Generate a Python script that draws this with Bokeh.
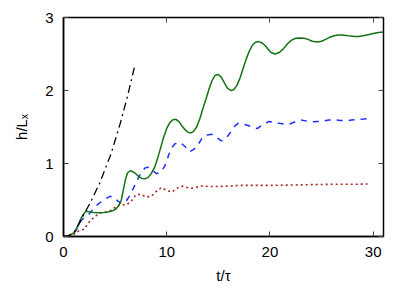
from bokeh.plotting import figure
from bokeh.models import LinearAxis, FixedTicker, Range1d
from bokeh.embed import file_html
from bokeh.resources import INLINE

# black dash-dot reference curve
t_black = [0, 0.5, 1.0, 1.5, 2.0, 2.66, 3.5, 4.6, 5.5, 6.2, 6.87]
h_black = [0, 0.01, 0.05, 0.17, 0.31, 0.48, 0.73, 1.13, 1.55, 1.92, 2.32]

# green solid
t_green = [0, 0.5, 1.0, 1.3, 1.6, 1.9, 2.2, 2.5, 2.9, 3.4, 3.9, 4.4, 4.8, 5.1, 5.35, 5.6, 5.8,
           6.0, 6.2, 6.45, 6.7, 7.0, 7.3, 7.6, 7.9, 8.2, 8.5, 8.8, 9.1, 9.4, 9.7, 10.0, 10.3,
           10.6, 10.9, 11.2, 11.5, 11.8, 12.1, 12.35, 12.6, 12.9, 13.2, 13.5, 13.8, 14.1, 14.4,
           14.7, 15.0, 15.3, 15.6, 15.9, 16.2, 16.5, 16.8, 17.1, 17.4, 17.7, 18.0, 18.3, 18.6,
           18.9, 19.2, 19.5, 19.8, 20.1, 20.5, 20.9, 21.3, 21.7, 22.1, 22.5, 22.9, 23.3, 23.7,
           24.1, 24.6, 25.0, 25.4, 25.8, 26.2, 26.6, 27.0, 27.4, 27.8, 28.2, 28.6, 29.0, 29.5,
           30.0, 30.5, 31.0]
h_green = [0, 0.01, 0.05, 0.12, 0.22, 0.30, 0.345, 0.34, 0.33, 0.325, 0.33, 0.34, 0.355, 0.38, 0.42, 0.50, 0.64,
           0.78, 0.87, 0.90, 0.89, 0.86, 0.82, 0.795, 0.79, 0.81, 0.86, 0.94, 1.06, 1.21, 1.36, 1.48, 1.56,
           1.60, 1.605, 1.57, 1.51, 1.46, 1.425, 1.42, 1.44, 1.50, 1.61, 1.75, 1.88, 2.02, 2.14,
           2.21, 2.22, 2.18, 2.10, 2.03, 2.00, 2.01, 2.07, 2.17, 2.30, 2.43, 2.54, 2.62, 2.66,
           2.67, 2.655, 2.62, 2.57, 2.52, 2.50, 2.52, 2.57, 2.64, 2.69, 2.715, 2.72, 2.715, 2.70,
           2.675, 2.665, 2.675, 2.70, 2.73, 2.75, 2.76, 2.76, 2.755, 2.745, 2.74, 2.74, 2.75, 2.765,
           2.78, 2.795, 2.80]

# blue dashed
t_blue = [0, 0.8, 1.2, 1.6, 2.0, 2.5, 3.0, 3.5, 4.0, 4.5, 4.9, 5.3, 5.7, 6.1, 6.5, 7.0, 7.5, 7.9,
          8.2, 8.6, 9.0, 9.4, 9.8, 10.1, 10.4, 10.8, 11.3, 11.8, 12.2, 12.6, 13.0, 13.4, 13.8,
          14.4, 14.9, 15.3, 15.7, 16.1, 16.5, 16.9, 17.4, 17.9, 18.4, 18.8, 19.3, 19.9, 20.4,
          20.9, 21.4, 21.9, 22.5, 23.0, 23.6, 24.1, 24.6, 25.1, 25.7, 26.2, 26.8, 27.35, 27.9,
          28.5, 29.1, 29.65]
h_blue = [0, 0.01, 0.08, 0.20, 0.26, 0.31, 0.40, 0.46, 0.51, 0.55, 0.54, 0.48, 0.45, 0.49, 0.58, 0.73, 0.87, 0.94,
          0.95, 0.91, 0.86, 0.88, 0.96, 1.08, 1.20, 1.27, 1.29, 1.23, 1.16, 1.19, 1.25, 1.34, 1.39,
          1.40, 1.35, 1.31, 1.34, 1.41, 1.50, 1.55, 1.54, 1.52, 1.49, 1.48, 1.53, 1.575, 1.565,
          1.55, 1.54, 1.54, 1.575, 1.595, 1.58, 1.57, 1.575, 1.58, 1.595, 1.60, 1.59, 1.585, 1.595,
          1.605, 1.61, 1.615]

# red dotted
t_red = [0, 1.0, 1.5, 2.0, 2.5, 3.0, 3.5, 4.0, 4.5, 5.0, 5.5, 6.0, 6.5, 7.0, 7.5, 8.0, 8.5,
         9.0, 9.5, 10.0, 10.5, 11.0, 11.5, 12.0, 12.5, 13.0, 13.5, 14.0, 15.0, 16.0, 17.0,
         18.0, 20.0, 22.0, 24.0, 26.0, 28.0, 29.7]
h_red = [0, 0.03, 0.08, 0.10, 0.20, 0.27, 0.32, 0.33, 0.35, 0.40, 0.44, 0.43, 0.47, 0.57, 0.58, 0.54, 0.55,
         0.62, 0.67, 0.63, 0.61, 0.66, 0.69, 0.67, 0.66, 0.68, 0.695, 0.685, 0.685, 0.69, 0.70,
         0.70, 0.70, 0.705, 0.71, 0.715, 0.715, 0.72]

x_ticks = [0, 10, 20, 30]
y_ticks = [0, 1, 2, 3]

FONT = "Liberation Sans"

p = figure(width=410, height=287, output_backend="svg", toolbar_location=None,
           x_range=Range1d(0, 31), y_range=Range1d(0, 3),
           min_border_left=63, min_border_right=27, min_border_top=17, min_border_bottom=51)
p.grid.visible = False
p.outline_line_color = "black"
p.outline_line_width = 1.5
p.background_fill_color = "white"
p.border_fill_color = "white"

p.line(t_red, h_red, line_color="#a52a2a", line_width=1.6, line_dash="2 3")
p.line(t_blue, h_blue, line_color="#1f2fff", line_width=1.5, line_dash="6 6")
p.line(t_green, h_green, line_color="#137313", line_width=1.5)
p.line(t_black, h_black, line_color="black", line_width=1.3, line_dash="8 4 2 4")

for ax in p.xaxis:
    ax.ticker = FixedTicker(ticks=x_ticks)
    ax.axis_label = "t/τ"
for ax in p.yaxis:
    ax.ticker = FixedTicker(ticks=y_ticks)
    ax.axis_label = "h/Lₓ"

for ax in list(p.xaxis) + list(p.yaxis):
    ax.major_tick_in = 5
    ax.major_tick_out = 0
    ax.minor_tick_line_color = None
    ax.axis_line_color = "black"
    ax.axis_line_width = 1.5
    ax.major_tick_line_color = "#444444"
    ax.major_label_text_font = FONT
    ax.major_label_text_font_size = "15px"
    ax.major_label_text_color = "black"
    ax.axis_label_text_font = FONT
    ax.axis_label_text_font_size = "15px"
    ax.axis_label_text_font_style = "normal"
    ax.axis_label_text_color = "black"
p.xaxis.major_label_standoff = 10
p.xaxis.axis_label_standoff = 7
p.yaxis.major_label_standoff = 10
p.yaxis.axis_label_standoff = 12

top = LinearAxis(ticker=FixedTicker(ticks=x_ticks), major_tick_in=5, major_tick_out=0,
                 minor_tick_line_color=None, major_label_text_font_size="0px",
                 major_label_text_color=None,
                 major_label_standoff=0, axis_line_color="black", major_tick_line_color="#444444")
right = LinearAxis(ticker=FixedTicker(ticks=y_ticks), major_tick_in=5, major_tick_out=0,
                   minor_tick_line_color=None, major_label_text_font_size="0px",
                   major_label_text_color=None,
                   major_label_standoff=0, axis_line_color="black", major_tick_line_color="#444444")
p.add_layout(top, "above")
p.add_layout(right, "right")

open("out.html", "w").write(file_html(p, INLINE))
